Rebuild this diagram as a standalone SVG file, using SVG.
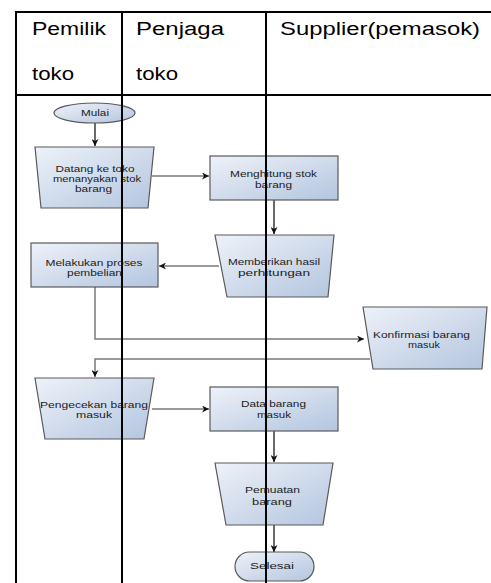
<svg xmlns="http://www.w3.org/2000/svg" width="491" height="583" viewBox="0 0 491 583">
<style>
.shape{fill:url(#g);stroke:#5a5a5a;stroke-width:1.2}
.t{font-family:"Liberation Sans",Arial,sans-serif;font-size:9px;fill:#222;text-anchor:middle}
.h{font-family:"Liberation Sans",Arial,sans-serif;font-size:18px;fill:#000}
.c{fill:none;stroke:#7a7a7a;stroke-width:1.5}
.cd{fill:none;stroke:#1a1a1a;stroke-width:1.3}
.tbl{stroke:#000;stroke-width:2;fill:none}
</style>
<defs>
<linearGradient id="g" x1="0" y1="0" x2="1" y2="1">
<stop offset="0" stop-color="#eef2f9"/>
<stop offset="1" stop-color="#b3c5df"/>
</linearGradient>
<marker id="a" viewBox="0 0 10 10" refX="10" refY="5" markerWidth="8" markerHeight="7" markerUnits="userSpaceOnUse" orient="auto">
<path d="M0,0 L10,5 L0,10 L3,5 z" fill="#111"/>
</marker>
</defs>
<rect width="491" height="583" fill="#fff"/>
<g id="connectors">
<path class="cd" d="M95,123 V146" marker-end="url(#a)"/>
<path class="c" d="M152,176 H209" marker-end="url(#a)"/>
<path class="cd" d="M274,200 V234" marker-end="url(#a)"/>
<path class="c" d="M219,266 H159" marker-end="url(#a)"/>
<path class="c" d="M95,287 V339 H364" marker-end="url(#a)"/>
<path class="c" d="M370,359 H95 V377" marker-end="url(#a)"/>
<path class="c" d="M152,409 H209" marker-end="url(#a)"/>
<path class="cd" d="M274,431 V462" marker-end="url(#a)"/>
<path class="cd" d="M274,525 V552" marker-end="url(#a)"/>
</g>
<g id="mulai">
<ellipse class="shape" cx="94.5" cy="113" rx="40.5" ry="10"/>
<text class="t" x="95" y="116" textLength="28" lengthAdjust="spacingAndGlyphs">Mulai</text>
</g>
<g id="datang">
<polygon class="shape" points="35,147 154,147 148,208 41,208"/>
<text class="t" x="95" y="172" textLength="79" lengthAdjust="spacingAndGlyphs">Datang ke toko</text>
<text class="t" x="97" y="182" textLength="88" lengthAdjust="spacingAndGlyphs">menanyakan stok</text>
<text class="t" x="93.5" y="192" textLength="37" lengthAdjust="spacingAndGlyphs">barang</text>
</g>
<g id="menghitung">
<rect class="shape" x="210" y="156" width="128" height="44"/>
<text class="t" x="273.5" y="177" textLength="87" lengthAdjust="spacingAndGlyphs">Menghitung stok</text>
<text class="t" x="273.5" y="188" textLength="37" lengthAdjust="spacingAndGlyphs">barang</text>
</g>
<g id="memberikan">
<polygon class="shape" points="215,235 334,235 328,297 227,297"/>
<text class="t" x="274" y="265" textLength="92" lengthAdjust="spacingAndGlyphs">Memberikan hasil</text>
<text class="t" x="274" y="276" textLength="72" lengthAdjust="spacingAndGlyphs">perhitungan</text>
</g>
<g id="melakukan">
<rect class="shape" x="31" y="243" width="127" height="44"/>
<text class="t" x="94" y="266" textLength="97" lengthAdjust="spacingAndGlyphs">Melakukan proses</text>
<text class="t" x="94.5" y="276" textLength="55" lengthAdjust="spacingAndGlyphs">pembelian</text>
</g>
<g id="konfirmasi">
<polygon class="shape" points="363,307 487,307 482,369 373,369"/>
<text class="t" x="421.5" y="338" textLength="97" lengthAdjust="spacingAndGlyphs">Konfirmasi barang</text>
<text class="t" x="424" y="348" textLength="32" lengthAdjust="spacingAndGlyphs">masuk</text>
</g>
<g id="pengecekan">
<polygon class="shape" points="35,378 154,378 144,439 45,439"/>
<text class="t" x="94" y="408" textLength="108" lengthAdjust="spacingAndGlyphs">Pengecekan barang</text>
<text class="t" x="94" y="418" textLength="36" lengthAdjust="spacingAndGlyphs">masuk</text>
</g>
<g id="data">
<rect class="shape" x="210" y="387" width="128" height="44"/>
<text class="t" x="273.5" y="407" textLength="65" lengthAdjust="spacingAndGlyphs">Data barang</text>
<text class="t" x="274" y="418" textLength="34" lengthAdjust="spacingAndGlyphs">masuk</text>
</g>
<g id="pemuatan">
<polygon class="shape" points="215,463 333,463 323,525 226,525"/>
<text class="t" x="272.5" y="493" textLength="55" lengthAdjust="spacingAndGlyphs">Pemuatan</text>
<text class="t" x="272" y="505" textLength="40" lengthAdjust="spacingAndGlyphs">barang</text>
</g>
<g id="selesai">
<rect class="shape" x="235" y="552" width="79" height="29" rx="14.5"/>
<text class="t" x="272" y="569" textLength="44" lengthAdjust="spacingAndGlyphs">Selesai</text>
</g>
<g id="table">
<path class="tbl" d="M16,12 H491 M16,95 H491 M16,11 V583 M122,11 V583 M266,11 V583"/>
<text class="h" x="32" y="35" textLength="74" lengthAdjust="spacingAndGlyphs">Pemilik</text>
<text class="h" x="32" y="80" textLength="42" lengthAdjust="spacingAndGlyphs">toko</text>
<text class="h" x="136" y="35" textLength="88" lengthAdjust="spacingAndGlyphs">Penjaga</text>
<text class="h" x="136" y="80" textLength="42" lengthAdjust="spacingAndGlyphs">toko</text>
<text class="h" x="280" y="35" textLength="200" lengthAdjust="spacingAndGlyphs">Supplier(pemasok)</text>
</g>
</svg>
